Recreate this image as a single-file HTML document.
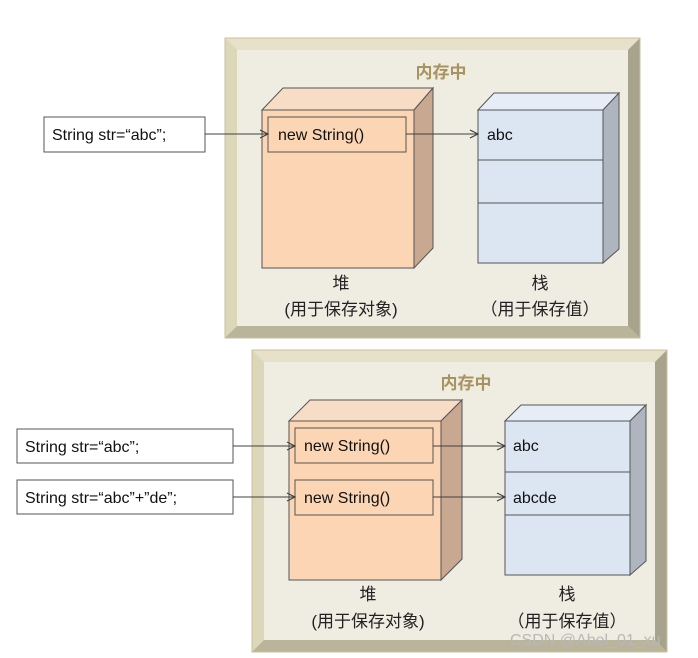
<!DOCTYPE html>
<html><head><meta charset="utf-8"><style>
html,body{margin:0;padding:0;background:#fff;}
svg{display:block;}
text{font-family:"Liberation Sans","Noto Sans CJK SC",sans-serif;}
</style></head><body>
<svg width="698" height="658" viewBox="0 0 698 658" xmlns="http://www.w3.org/2000/svg">
<defs>
<marker id="ar" markerWidth="10" markerHeight="10" refX="9" refY="5" orient="auto" markerUnits="userSpaceOnUse">
<path d="M1,1 L9,5 L1,9" fill="none" stroke="#404040" stroke-width="1.2"/>
</marker>
</defs>

<!-- TOP FRAME -->
<g>
<rect x="225" y="38" width="415" height="300" fill="#d8d2b2"/>
<polygon points="225,38 640,38 628,50 237,50" fill="#e6e1c8"/>
<polygon points="225,38 237,50 237,326 225,338" fill="#ddd7ba"/>
<polygon points="640,38 640,338 628,326 628,50" fill="#a8a38c"/>
<polygon points="225,338 640,338 628,326 237,326" fill="#b9b49a"/>
<rect x="237" y="50" width="391" height="276" fill="#efece2"/>
<rect x="225" y="38" width="415" height="300" fill="none" stroke="#c8c0a0" stroke-width="1"/>
<text x="441" y="78" font-size="17" font-weight="bold" fill="#a89460" text-anchor="middle">内存中</text>

<!-- heap -->
<polygon points="262,110 283,88 433,88 414,110" fill="#f8ddc6" stroke="#555" stroke-width="1"/>
<polygon points="414,110 433,88 433,248 414,268" fill="#c9a892" stroke="#555" stroke-width="1"/>
<rect x="262" y="110" width="152" height="158" fill="#fcd5b4" stroke="#555" stroke-width="1"/>
<rect x="268" y="117" width="138" height="35" fill="#fcd5b4" stroke="#555" stroke-width="1"/>
<text x="278" y="140" font-size="16" fill="#111">new String()</text>

<!-- stack -->
<polygon points="478,110 494,93 619,93 603,110" fill="#e6edf6" stroke="#555" stroke-width="1"/>
<polygon points="603,110 619,93 619,249 603,263" fill="#aeb5bf" stroke="#555" stroke-width="1"/>
<rect x="478" y="110" width="125" height="153" fill="#dce6f2" stroke="#555" stroke-width="1"/>
<line x1="478" y1="160" x2="603" y2="160" stroke="#555"/>
<line x1="478" y1="203" x2="603" y2="203" stroke="#555"/>
<text x="487" y="140" font-size="16" fill="#111">abc</text>

<text x="341" y="289" font-size="17" fill="#222" text-anchor="middle">堆</text>
<text x="341" y="315" font-size="17" fill="#222" text-anchor="middle">(用于保存对象)</text>
<text x="540" y="289" font-size="17" fill="#222" text-anchor="middle">栈</text>
<text x="540" y="315" font-size="17" fill="#222" text-anchor="middle">（用于保存值）</text>
</g>

<rect x="44" y="117" width="161" height="35" fill="#fff" stroke="#555" stroke-width="1"/>
<text x="52" y="140" font-size="16" fill="#111">String str=“abc”;</text>
<line x1="205" y1="134" x2="268" y2="134" stroke="#404040" stroke-width="1" marker-end="url(#ar)"/>
<line x1="406" y1="134" x2="478" y2="134" stroke="#404040" stroke-width="1" marker-end="url(#ar)"/>

<!-- BOTTOM FRAME -->
<g>
<rect x="252" y="350" width="415" height="302" fill="#d8d2b2"/>
<polygon points="252,350 667,350 655,362 264,362" fill="#e6e1c8"/>
<polygon points="252,350 264,362 264,640 252,652" fill="#ddd7ba"/>
<polygon points="667,350 667,652 655,640 655,362" fill="#a8a38c"/>
<polygon points="252,652 667,652 655,640 264,640" fill="#b9b49a"/>
<rect x="264" y="362" width="391" height="278" fill="#efece2"/>
<rect x="252" y="350" width="415" height="302" fill="none" stroke="#c8c0a0" stroke-width="1"/>
<text x="466" y="389" font-size="17" font-weight="bold" fill="#a89460" text-anchor="middle">内存中</text>

<polygon points="289,421 310,400 462,400 441,421" fill="#f8ddc6" stroke="#555" stroke-width="1"/>
<polygon points="441,421 462,400 462,559 441,580" fill="#c9a892" stroke="#555" stroke-width="1"/>
<rect x="289" y="421" width="152" height="159" fill="#fcd5b4" stroke="#555" stroke-width="1"/>
<rect x="295" y="428" width="138" height="35" fill="#fcd5b4" stroke="#555" stroke-width="1"/>
<rect x="295" y="480" width="138" height="35" fill="#fcd5b4" stroke="#555" stroke-width="1"/>
<text x="304" y="451" font-size="16" fill="#111">new String()</text>
<text x="304" y="503" font-size="16" fill="#111">new String()</text>

<polygon points="505,421 521,405 646,405 630,421" fill="#e6edf6" stroke="#555" stroke-width="1"/>
<polygon points="630,421 646,405 646,561 630,575" fill="#aeb5bf" stroke="#555" stroke-width="1"/>
<rect x="505" y="421" width="125" height="154" fill="#dce6f2" stroke="#555" stroke-width="1"/>
<line x1="505" y1="472" x2="630" y2="472" stroke="#555"/>
<line x1="505" y1="515" x2="630" y2="515" stroke="#555"/>
<text x="513" y="451" font-size="16" fill="#111">abc</text>
<text x="513" y="503" font-size="16" fill="#111">abcde</text>

<text x="368" y="600" font-size="17" fill="#222" text-anchor="middle">堆</text>
<text x="368" y="627" font-size="17" fill="#222" text-anchor="middle">(用于保存对象)</text>
<text x="567" y="600" font-size="17" fill="#222" text-anchor="middle">栈</text>
<text x="567" y="627" font-size="17" fill="#222" text-anchor="middle">（用于保存值）</text>
</g>

<rect x="17" y="429" width="216" height="34" fill="#fff" stroke="#555" stroke-width="1"/>
<text x="25" y="452" font-size="16" fill="#111">String str=“abc”;</text>
<rect x="17" y="480" width="216" height="34" fill="#fff" stroke="#555" stroke-width="1"/>
<text x="25" y="503" font-size="16" fill="#111">String str=“abc”+”de”;</text>
<line x1="233" y1="446" x2="295" y2="446" stroke="#404040" stroke-width="1" marker-end="url(#ar)"/>
<line x1="233" y1="497" x2="295" y2="497" stroke="#404040" stroke-width="1" marker-end="url(#ar)"/>
<line x1="433" y1="446" x2="505" y2="446" stroke="#404040" stroke-width="1" marker-end="url(#ar)"/>
<line x1="433" y1="497" x2="505" y2="497" stroke="#404040" stroke-width="1" marker-end="url(#ar)"/>

<text x="510" y="645" font-size="16" fill="#b8b8b8">CSDN @Abel_01_xu</text>
</svg>
</body></html>
